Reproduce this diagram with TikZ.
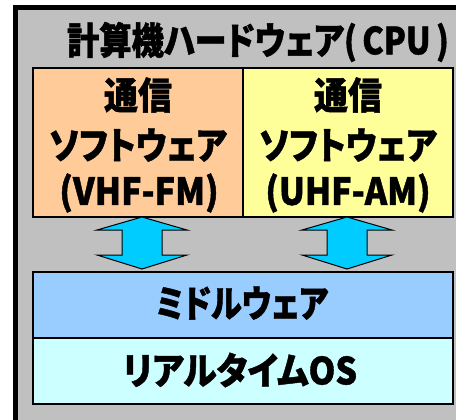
\documentclass[tikz,border=0pt]{standalone}
\usepackage{fontspec}
\newfontfamily\jp{Noto Sans CJK JP}[RawFeature=+palt, BoldFeatures={FakeBold=1.2}]
\definecolor{hwgray}{HTML}{C0C0C0}
\definecolor{vhf}{HTML}{FFCC99}
\definecolor{uhf}{HTML}{FFFF99}
\definecolor{mid}{HTML}{99CCFF}
\definecolor{rtos}{HTML}{CCFFFF}
\definecolor{arr}{HTML}{00CCFF}
\newcommand{\stretchtxt}[2]{\scalebox{#1}[1.1]{#2}}
\begin{document}
\begin{tikzpicture}[x=1pt,y=-1pt,
  lbl/.style={font=\jp\bfseries\fontsize{34}{40}\selectfont, inner sep=0pt, align=center},
  layer/.style={draw=black, line width=1.2pt},
  dblarrow/.style={draw=black, line width=1pt, fill=arr, line join=miter}]
\useasboundingbox (0,0) rectangle (456,420);
\clip (0,0) rectangle (456,420);
% hardware frame
\path[fill=hwgray, draw=black, line width=5pt] (15.5,7.5) rectangle (480,440);
\node[lbl] (hw) at (258,42) {\stretchtxt{0.95}{計算機ハードウェア(\,CPU\,)}};
% software boxes
\path[layer, fill=vhf] (33,68) rectangle (243,217);
\path[layer, fill=uhf] (243,68) rectangle (453,217);
\node[lbl] (v1) at (138,95) {\stretchtxt{1}{通信}};
\node[lbl] (v2) at (138,145) {\stretchtxt{0.97}{ソフトウェア}};
\node[lbl] (v3) at (139,193) {\stretchtxt{1}{(VHF-FM)}};
\node[lbl] (u1) at (348,95) {\stretchtxt{1}{通信}};
\node[lbl] (u2) at (348,145) {\stretchtxt{0.97}{ソフトウェア}};
\node[lbl] (u3) at (348,193) {\stretchtxt{1}{(UHF-AM)}};
% middleware and rtos
\path[layer, fill=mid] (33,272) rectangle (453,338);
\path[layer, fill=rtos] (33,338) rectangle (453,404);
\node[lbl] (mw) at (242,303) {\stretchtxt{0.92}{ミドルウェア}};
\node[lbl] (os) at (240,370) {\stretchtxt{1}{リアルタイムOS}};
% double arrows
\foreach \cx/\nm in {142/a1, 347/a2}{
  \path[dblarrow] (\cx,217) -- (\cx+45,230) -- (\cx+20,230) -- (\cx+20,255)
    -- (\cx+45,255) -- (\cx,269) -- (\cx-45,255) -- (\cx-20,255)
    -- (\cx-20,230) -- (\cx-45,230) -- cycle;
}
\end{tikzpicture}
\end{document}
